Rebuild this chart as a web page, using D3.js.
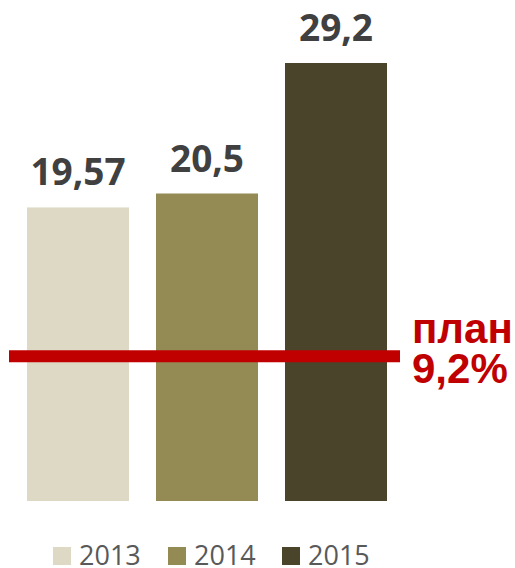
<!DOCTYPE html>
<html><head><meta charset="utf-8">
<script src="https://cdn.jsdelivr.net/npm/d3@7"></script>
<style>html,body{margin:0;padding:0;background:#fff;}svg{display:block;}</style>
</head><body>
<script>
const categories = ["2013", "2014", "2015"];
const values = [19.57, 20.5, 29.2];
const valueLabels = ["19,57", "20,5", "29,2"];
const colors = ["#DDD9C4", "#948A54", "#4A452A"];
const planLevel = 9.65;
const planLabel = ["план", "9,2%"];

const W = 515, H = 568;
const svg = d3.select("body").append("svg").attr("width", W).attr("height", H);

const x = d3.scaleBand().domain(categories).range([27, 387]).paddingInner(27/129).paddingOuter(0);
const y = d3.scaleLinear().domain([0, 29.2]).range([501, 63]);

svg.selectAll("rect.bar").data(values).enter().append("rect")
  .attr("class","bar")
  .attr("x", (d,i) => x(categories[i]))
  .attr("width", x.bandwidth())
  .attr("y", d => y(d))
  .attr("height", d => y(0) - y(d))
  .attr("fill", (d,i) => colors[i]);

svg.selectAll("text.val").data(values).enter().append("text")
  .attr("class","val")
  .attr("x", (d,i) => x(categories[i]) + x.bandwidth()/2)
  .attr("y", d => y(d) - 22)
  .attr("text-anchor","middle")
  .attr("font-family","'Open Sans', sans-serif")
  .attr("font-weight","bold")
  .attr("font-size", 37)
  .attr("fill","#404040")
  .text((d,i) => valueLabels[i]);

// plan line
svg.append("line")
  .attr("x1", 9).attr("x2", 400)
  .attr("y1", y(planLevel)).attr("y2", y(planLevel))
  .attr("stroke","#C00000").attr("stroke-width", 12);

svg.selectAll("text.plan").data(planLabel).enter().append("text")
  .attr("class","plan")
  .attr("x", 412)
  .attr("y", (d,i) => 343 + i*40)
  .attr("font-family","'Liberation Sans', Arial, sans-serif")
  .attr("font-weight","bold")
  .attr("font-size", 42)
  .attr("fill","#C00000")
  .text(d => d);

// legend
const legendX = [53, 168, 282];
const lg = svg.selectAll("g.leg").data(categories).enter().append("g")
  .attr("class","leg")
  .attr("transform", (d,i) => `translate(${legendX[i]},0)`);
lg.append("rect").attr("x",0).attr("y",547).attr("width",18).attr("height",18)
  .attr("fill",(d,i)=>colors[i]);
lg.append("text").attr("x",26).attr("y",565)
  .attr("font-family","'Open Sans', sans-serif")
  .attr("font-size",27)
  .attr("fill","#595959")
  .text(d=>d);
</script>
</body></html>
